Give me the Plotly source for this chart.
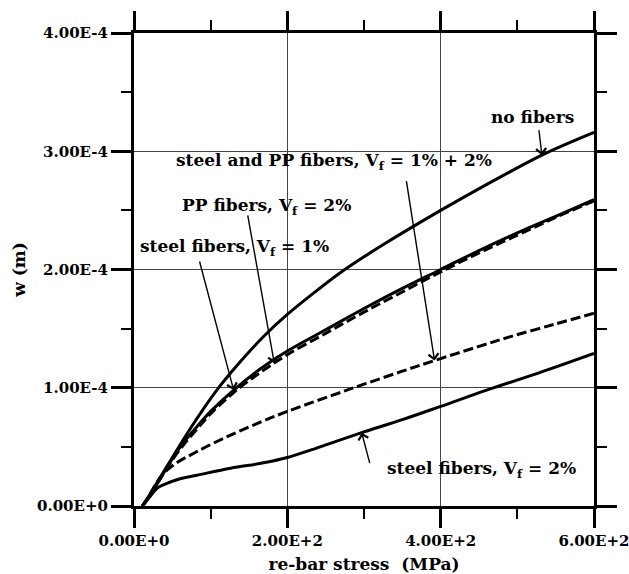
import numpy as np
import plotly.graph_objects as go

# Crack width w (in units of 1e-4 m) against re-bar stress (MPa)
stress_no_fibers = [11, 20, 35, 50, 75, 108, 140, 170, 200, 240, 275, 330, 400, 438, 480, 536, 600]
w_no_fibers = [0, 0.09, 0.25, 0.41, 0.67, 0.98, 1.23, 1.44, 1.62, 1.83, 2.00, 2.23, 2.50, 2.64, 2.79, 2.98, 3.16]

stress_steel1 = [11, 20, 35, 50, 65, 82, 100, 130, 165, 200, 250, 300, 350, 400, 450, 500, 550, 600]
w_steel1 = [0, 0.08, 0.24, 0.40, 0.54, 0.67, 0.80, 0.98, 1.16, 1.31, 1.49, 1.67, 1.84, 2.00, 2.16, 2.31, 2.45, 2.59]

stress_pp2 = [11, 20, 35, 50, 65, 82, 100, 130, 165, 200, 250, 300, 350, 400, 450, 500, 550, 600]
w_pp2 = [0, 0.08, 0.24, 0.39, 0.52, 0.65, 0.78, 0.96, 1.13, 1.28, 1.46, 1.64, 1.81, 1.98, 2.14, 2.29, 2.44, 2.58]

stress_hybrid = [11, 20, 34, 50, 82, 126, 169, 200, 256, 300, 350, 392, 450, 490, 550, 600]
w_hybrid = [0, 0.09, 0.24, 0.34, 0.46, 0.60, 0.72, 0.80, 0.93, 1.03, 1.14, 1.23, 1.35, 1.43, 1.54, 1.63]

stress_steel2 = [11, 21, 30, 39, 60, 82, 126, 169, 200, 229, 256, 297, 350, 399, 460, 530, 600]
w_steel2 = [0, 0.08, 0.15, 0.18, 0.23, 0.26, 0.32, 0.365, 0.41, 0.47, 0.53, 0.62, 0.73, 0.84, 0.98, 1.13, 1.29]

W_UNIT = 1e-4

x_tickvals = [0, 200, 400, 600]
x_ticktext = ["0.00E+0", "2.00E+2", "4.00E+2", "6.00E+2"]
y_tickvals = [0, 1e-4, 2e-4, 3e-4, 4e-4]
y_ticktext = ["0.00E+0", "1.00E-4", "2.00E-4", "3.00E-4", "4.00E-4"]
x_minor = [100, 300, 500]
y_minor = [0.5e-4, 1.5e-4, 2.5e-4, 3.5e-4]

SERIF = "DejaVu Serif"

series = [
    (stress_no_fibers, w_no_fibers, "solid", "no fibers"),
    (stress_steel1, w_steel1, "solid", "steel fibers, Vf = 1%"),
    (stress_pp2, w_pp2, "10px,4px", "PP fibers, Vf = 2%"),
    (stress_hybrid, w_hybrid, "10px,4px", "steel and PP fibers, Vf = 1% + 2%"),
    (stress_steel2, w_steel2, "solid", "steel fibers, Vf = 2%"),
]

fig = go.Figure()
for xs, ws, dash, name in series:
    fig.add_trace(go.Scatter(
        x=xs, y=np.array(ws) * W_UNIT, mode="lines", name=name,
        line=dict(color="black", width=3, dash=dash, shape="spline", smoothing=1.0),
        showlegend=False,
    ))


def on_curve(xs, ws, s):
    return float(np.interp(s, xs, ws)) * W_UNIT


label_font = dict(family=SERIF, size=17, color="black", weight="bold")

# Curve labels: (text, x, y)
labels = [
    ("no fibers", 520, 3.29e-4),
    ("steel and PP fibers, V<sub>f</sub> = 1% + 2%", 261, 2.91e-4),
    ("PP fibers, V<sub>f</sub> = 2%", 173, 2.53e-4),
    ("steel fibers, V<sub>f</sub> = 1%", 131, 2.19e-4),
    ("steel fibers, V<sub>f</sub> = 2%", 453, 0.31e-4),
]
for text, x, y in labels:
    fig.add_annotation(x=x, y=y, text=text, showarrow=False, font=label_font,
                       xanchor="center", yanchor="middle")

# Leader arrows: tail (data coords) -> tip on the curve
leaders = [
    (528, 3.19e-4, on_curve(stress_no_fibers, w_no_fibers, 532), 532),
    (355, 2.76e-4, on_curve(stress_hybrid, w_hybrid, 392), 392),
    (148, 2.47e-4, on_curve(stress_pp2, w_pp2, 183), 183),
    (85, 2.08e-4, on_curve(stress_steel1, w_steel1, 130), 130),
    (308, 0.35e-4, on_curve(stress_steel2, w_steel2, 297), 297),
]
for ax, ay, ty, tx in leaders:
    fig.add_annotation(x=tx, y=ty, ax=ax, ay=ay, axref="x", ayref="y", xref="x", yref="y",
                       text="", showarrow=True, arrowhead=4, arrowsize=1.4,
                       arrowwidth=1.4, arrowcolor="black", standoff=0)

axis_common = dict(
    showline=True, linewidth=3, linecolor="black", mirror="allticks",
    ticks="outside", tickwidth=3, tickcolor="black", automargin=False,
    ticklabeloverflow="allow",
    showgrid=True, gridcolor="#444", gridwidth=1, zeroline=False,
    tickfont=dict(family=SERIF, size=15, color="black", weight="bold"),
)

fig.update_xaxes(
    range=[0, 600], tickmode="array", tickvals=x_tickvals, ticktext=x_ticktext,
    ticklen=19,
    minor=dict(tickmode="array", tickvals=x_minor, ticks="outside", ticklen=10,
               tickwidth=2, tickcolor="black", showgrid=False),
    title=dict(text="re-bar stress  (MPa)", standoff=12,
               font=dict(family=SERIF, size=17, color="black", weight="bold")),
    **axis_common,
)
fig.update_yaxes(
    range=[0, 4e-4], tickmode="array", tickvals=y_tickvals, ticktext=y_ticktext,
    ticklen=20,
    minor=dict(tickmode="array", tickvals=y_minor, ticks="outside", ticklen=10,
               tickwidth=2, tickcolor="black", showgrid=False),
    title=dict(text="w (m)", standoff=8,
               font=dict(family=SERIF, size=17, color="black", weight="bold")),
    **axis_common,
)

fig.update_layout(
    width=629, height=574,
    margin=dict(l=134, r=35, t=33, b=68),
    plot_bgcolor="white", paper_bgcolor="white",
)

fig.write_html("out.html")
